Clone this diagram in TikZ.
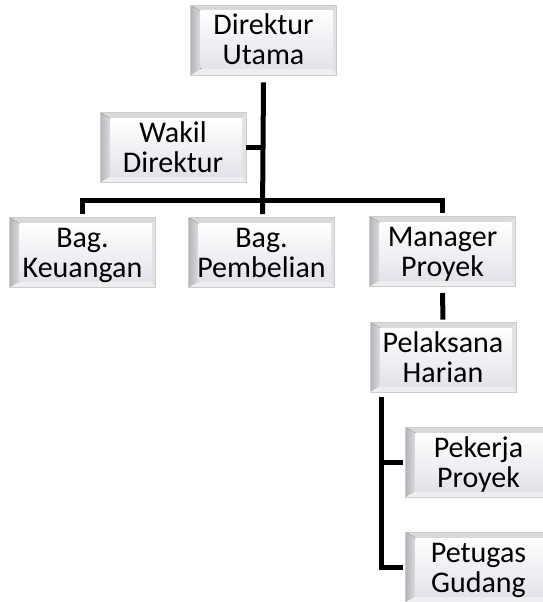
\documentclass[tikz,border=0pt]{standalone}
\usepackage{fontspec}
\newfontfamily\orgfont{Carlito}
\definecolor{bevtop}{HTML}{D9D9DC}
\definecolor{bevdark}{HTML}{B4B4B8}
\definecolor{bevmid}{HTML}{DCDCE0}
\definecolor{bevbot}{HTML}{EEEEF0}
\definecolor{bevright}{HTML}{E2E2E4}
\definecolor{facebot}{HTML}{E2E2EA}
\tikzset{
  orgbox/.style={
    rectangle, minimum width=146pt, minimum height=70pt, inner sep=0pt,
    align=center, text height=50pt, text depth=0pt,
    font={\orgfont\fontsize{30}{30}\selectfont},
    draw=gray!40, line width=0.6pt,
    path picture={
      \coordinate (bnw) at (path picture bounding box.north west);
      \coordinate (bne) at (path picture bounding box.north east);
      \coordinate (bsw) at (path picture bounding box.south west);
      \coordinate (bse) at (path picture bounding box.south east);
      \fill[bevtop] (bsw) rectangle (bne);
      \fill[left color=bevdark, right color=bevmid]
        (bnw) -- ([xshift=10pt,yshift=-6pt]bnw) -- ([xshift=10pt,yshift=6pt]bsw) -- (bsw) -- cycle;
      \fill[bevbot]
        (bsw) -- ([xshift=10pt,yshift=6pt]bsw) -- ([xshift=-4pt,yshift=6pt]bse) -- (bse) -- cycle;
      \fill[bevright]
        (bse) -- ([xshift=-4pt,yshift=6pt]bse) -- ([xshift=-4pt,yshift=-6pt]bne) -- (bne) -- cycle;
      \shade[top color=white, bottom color=facebot]
        ([xshift=10pt,yshift=6pt]bsw) rectangle ([xshift=-4pt,yshift=-6pt]bne);
    }
  },
  link/.style={line width=5pt, black}
}
\begin{document}
\begin{tikzpicture}[x=1pt,y=-1pt]
  \useasboundingbox (0,0) rectangle (543,602);
  \fill[white] (0,0) rectangle (543,602);

  % boxes
  \node[orgbox] (dir) at (263.5,40)  {Direktur\\Utama};
  \node[orgbox] (wak) at (173,147.5) {Wakil\\Direktur};
  \node[orgbox] (keu) at (82.5,252.5){Bag.\\Keuangan};
  \node[orgbox] (pem) at (261.5,252.5){Bag.\\Pembelian};
  \node[orgbox] (man) at (442.5,251.5){Manager\\Proyek};
  \node[orgbox] (pel) at (443,357)   {Pelaksana\\Harian};
  \node[orgbox] (pek) at (478.5,462) {Pekerja\\Proyek};
  \node[orgbox] (pet) at (478.5,567) {Petugas\\Gudang};

  % horizontal bus under the director
  \coordinate (bus) at (0,200);
  % spine on the left of the field staff
  \coordinate (spine) at ([xshift=12pt,yshift=-5pt]pel.south west);

  % connectors
  \draw[link] ([yshift=-7pt]dir.south) -- ([xshift=1pt,yshift=3pt]pem.north);
  \draw[link] (wak.east) -- (wak.east -| pem.north);
  \draw[link] ([yshift=3pt]keu.north) |- (bus -| pem.north)
              -| ([yshift=3pt]man.north);
  \draw[link] ([yshift=-6pt]man.south) -- ([yshift=2pt]pel.north);
  \draw[link] (spine) |- ([xshift=-2pt]pet.west);
  \draw[link] ([xshift=-2pt]pek.west) -- (pek.west -| spine);
\end{tikzpicture}
\end{document}
